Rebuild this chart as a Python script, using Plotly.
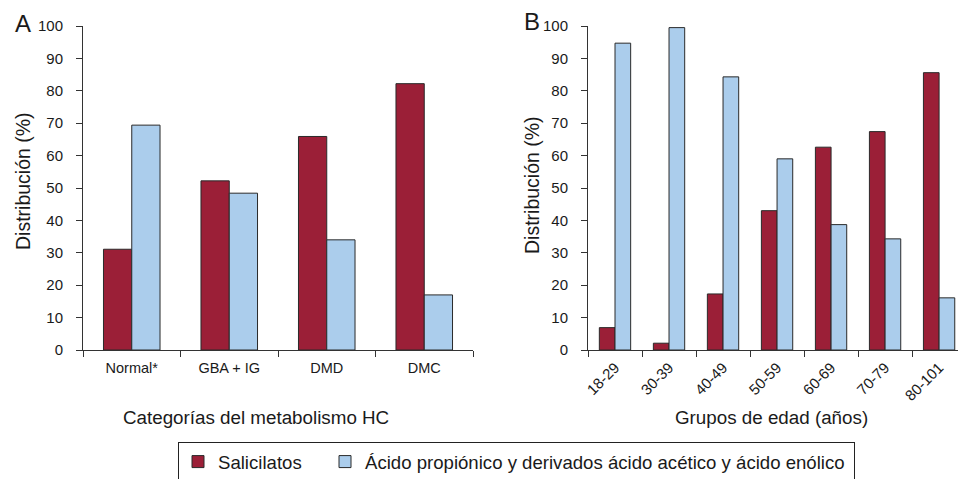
import plotly.graph_objects as go

W, H = 959, 479

# ---- data ----
cats_a = ["Normal*", "GBA + IG", "DMD", "DMC"]
sal_a = [31.1, 52.2, 65.9, 82.2]
acid_a = [69.4, 48.4, 34.0, 17.0]

cats_b = ["18-29", "30-39", "40-49", "50-59", "60-69", "70-79", "80-101"]
sal_b = [6.9, 2.1, 17.3, 43.0, 62.6, 67.4, 85.6]
acid_b = [94.7, 99.5, 84.3, 59.0, 38.7, 34.3, 16.1]

series = ["Salicilatos", "Ácido propiónico y derivados ácido acético y ácido enólico"]
y_ticks = [0, 10, 20, 30, 40, 50, 60, 70, 80, 90, 100]

red = "#9B1F37"
blue = "#ABCDEC"
edge = "#2a2a2a"
txt = "#1a1a1a"
FONT = "Liberation Sans, Arial, sans-serif"


def px(x):
    return x / W


def py(y):
    return 1 - y / H


fig = go.Figure()
fig.add_trace(go.Bar(x=cats_a, y=sal_a, name=series[0], marker=dict(color=red, line=dict(color=edge, width=1)),
                     xaxis="x", yaxis="y", legendgroup="s", legendwidth=102))
fig.add_trace(go.Bar(x=cats_a, y=acid_a, name=series[1], marker=dict(color=blue, line=dict(color=edge, width=1)),
                     xaxis="x", yaxis="y", legendgroup="a", legendwidth=484))
fig.add_trace(go.Bar(x=cats_b, y=sal_b, name=series[0], marker=dict(color=red, line=dict(color=edge, width=1)),
                     xaxis="x2", yaxis="y2", legendgroup="s", showlegend=False))
fig.add_trace(go.Bar(x=cats_b, y=acid_b, name=series[1], marker=dict(color=blue, line=dict(color=edge, width=1)),
                     xaxis="x2", yaxis="y2", legendgroup="a", showlegend=False))

axis_common = dict(showline=True, linecolor="#333", linewidth=1, ticks="outside", ticklen=6,
                   tickwidth=1, tickcolor="#333", showgrid=False, zeroline=False, automargin=False)

fig.update_layout(
    width=W, height=H,
    margin=dict(l=0, r=0, t=0, b=0, autoexpand=False),
    paper_bgcolor="white", plot_bgcolor="white",
    barmode="group", bargap=0.42, bargroupgap=0,
    font=dict(family=FONT, color=txt),
    xaxis=dict(domain=[px(83), px(473)], anchor="y", type="category", range=[-0.5, 3.5],
               tickson="boundaries", ticklabelstandoff=5,
               tickfont=dict(family=FONT, size=14.5, color=txt), **axis_common),
    yaxis=dict(domain=[py(350), py(26)], anchor="x", range=[0, 100], tickvals=y_ticks,
               ticklabelstandoff=10, tickfont=dict(family=FONT, size=15, color=txt), **axis_common),
    xaxis2=dict(domain=[px(588), px(958)], anchor="y2", type="category", range=[-0.5, 6.35],
                tickson="boundaries", tickangle=-45, ticklabelstandoff=2,
                tickfont=dict(family=FONT, size=15, color=txt), **axis_common),
    yaxis2=dict(domain=[py(350), py(26)], anchor="x2", range=[0, 100], tickvals=y_ticks,
                ticklabelstandoff=10, tickfont=dict(family=FONT, size=15, color=txt), **axis_common),
    legend=dict(orientation="h", x=px(178), y=py(442), xanchor="left", yanchor="top",
                bordercolor="#222", borderwidth=1, bgcolor="white",
                font=dict(family=FONT, size=18.6, color=txt)),
    showlegend=True,
)

ann = [
    dict(text="A", x=px(13), y=py(8), xanchor="left", yanchor="top", font=dict(size=24)),
    dict(text="B", x=px(522), y=py(6), xanchor="left", yanchor="top", font=dict(size=24)),
    dict(text="Distribución (%)", x=px(23), y=py(181), textangle=-90, xanchor="center", yanchor="middle",
         font=dict(size=19.5)),
    dict(text="Distribución (%)", x=px(532), y=py(185), textangle=-90, xanchor="center", yanchor="middle",
         font=dict(size=19.5)),
    dict(text="Categorías del metabolismo HC", x=px(256), y=py(417), xanchor="center", yanchor="middle",
         font=dict(size=18.8)),
    dict(text="Grupos de edad (años)", x=px(771), y=py(417), xanchor="center", yanchor="middle",
         font=dict(size=18.8)),
]
for a in ann:
    a.update(xref="paper", yref="paper", showarrow=False)
    a["font"] = dict(family=FONT, color=txt, **a["font"])
fig.update_layout(annotations=ann)

fig.write_html("out.html", config={"displayModeBar": False},
               post_script="document.body.style.margin='0';document.body.style.overflow='hidden';")
